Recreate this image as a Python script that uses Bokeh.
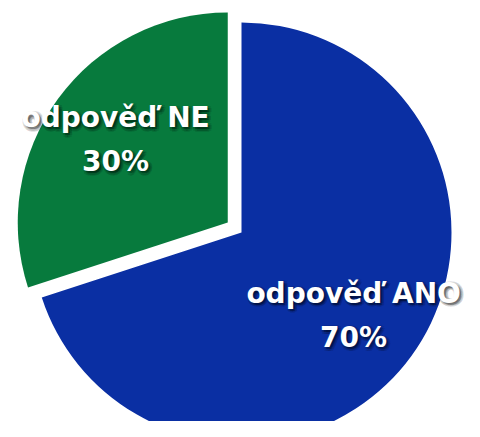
import math
from bokeh.plotting import figure
from bokeh.models import Range1d, ColumnDataSource
from bokeh.core.properties import value
from bokeh.embed import file_html
from bokeh.resources import INLINE

# data
categories = ["odpověď ANO", "odpověď NE"]
shares = [70, 30]
colors = ["#0a2fa3", "#077a3d"]
explode = [0, 17]

W, H = 464, 421
p = figure(width=W, height=H, output_backend="svg", toolbar_location=None,
           x_range=Range1d(0, 464), y_range=Range1d(16, 437), min_border=0)
p.axis.visible = False
p.grid.visible = False
p.outline_line_color = None
p.background_fill_color = "white"
p.border_fill_color = "white"

cx, cy, R = 241, 205, 210
total = sum(shares)
start = 90.0
wx, wy, sa, ea, lx, ly, labels = [], [], [], [], [], [], []
for cat, v, ex in zip(categories, shares, explode):
    sweep = 360.0 * v / total
    end = start - sweep
    mid = math.radians((start + end) / 2)
    ox = cx + ex * math.cos(mid)
    oy = cy + ex * math.sin(mid)
    wx.append(ox); wy.append(oy)
    sa.append(math.radians(start)); ea.append(math.radians(end))
    lx.append(ox + 0.66 * R * math.cos(mid))
    ly.append(oy + 0.67 * R * math.sin(mid))
    labels.append(f"{cat}\n{round(100 * v / total)}%")
    start = end

src = ColumnDataSource(dict(x=wx, y=wy, sa=sa, ea=ea, color=colors,
                            lx=lx, ly=ly, label=labels))
p.wedge(x="x", y="y", radius=R, start_angle="sa", end_angle="ea",
        direction="clock", fill_color="color", line_color=None, source=src)

font = value("DejaVu Sans")
common = dict(text="label", text_font=font, text_font_size="28px",
              text_font_style="bold", text_align="center",
              text_baseline="middle", text_line_height=1.34, source=src)
# soft shadow (offset down-right, blurred)
offs = [(2, 2, 0.25)]
for k in range(8):
    t = 2 * math.pi * k / 8
    offs.append((2 + 2.5 * math.cos(t), 2 + 2.5 * math.sin(t), 0.09))
for dx, dy, a in offs:
    p.text(x="lx", y="ly", x_offset=dx, y_offset=dy, text_color="black",
           text_alpha=a, **common)
p.text(x="lx", y="ly", text_color="white", **common)

open("out.html", "w").write(file_html(p, INLINE))
